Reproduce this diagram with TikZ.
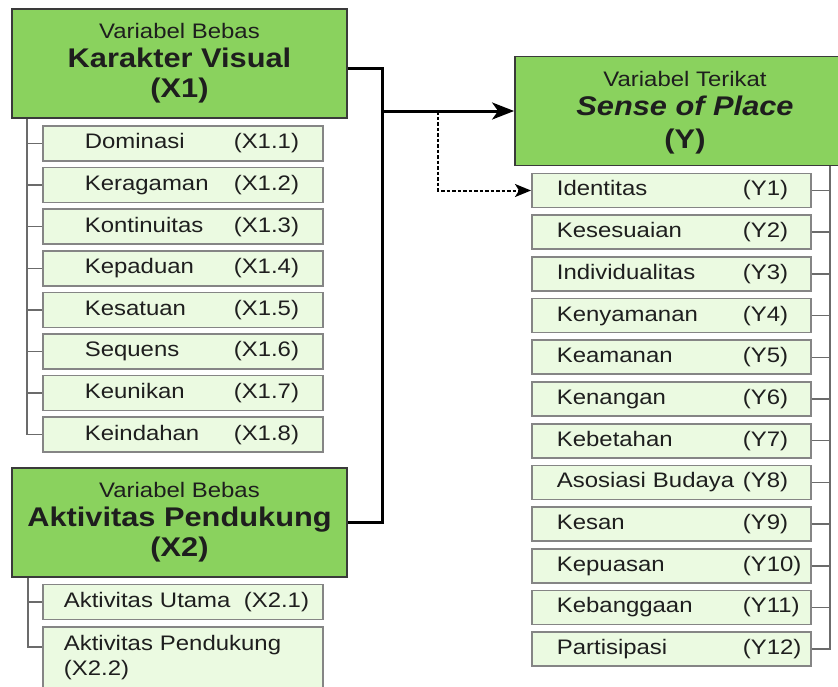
\documentclass[tikz,border=0pt]{standalone}
\usepackage{fontspec}
\setmainfont[FakeStretch=1.14]{Liberation Sans}
\usetikzlibrary{arrows.meta,calc}
\definecolor{maingreen}{HTML}{8AD25E}
\definecolor{itemfill}{HTML}{EBFAE1}
\definecolor{itemedge}{HTML}{858585}
\definecolor{mainedge}{HTML}{3A3A3A}
\definecolor{treegray}{HTML}{6B6B6B}
\definecolor{txt}{HTML}{1E1E1E}
\begin{document}
\begin{tikzpicture}[x=1pt,y=-1pt,
  mainbox/.style={draw=mainedge,fill=maingreen,line width=1.8pt,minimum width=335pt,minimum height=109pt,
    inner sep=0pt,align=center,text=txt,font=\fontsize{21}{29}\selectfont},
  itembox/.style={draw=itemedge,fill=itemfill,line width=1.7pt,minimum height=35pt,inner xsep=0pt,inner ysep=0pt,
    text width=280pt,align=left,anchor=west,text=txt,font=\fontsize{21}{25}\selectfont},
  yitem/.style={itembox,text width=279pt,minimum height=34pt},
  tree/.style={draw=treegray,line width=1.5pt},
  conn/.style={draw=black,line width=3pt},
  dotconn/.style={draw=black,line width=2pt,dash pattern=on 3.5pt off 2pt}
]
\useasboundingbox (0,0) rectangle (838,686);
\clip (0,0) rectangle (838,686);
\fill[white] (0,0) rectangle (838,686);

% main boxes
\node[mainbox] (X1) at (179.5,63.5) {Variabel Bebas\\{\fontsize{27}{29}\selectfont\bfseries Karakter Visual}\\[1pt]{\fontsize{27}{29}\selectfont\bfseries (X1)}};
\node[mainbox] (X2) at (179.5,522.5) {Variabel Bebas\\{\fontsize{27}{29}\selectfont\bfseries Aktivitas Pendukung}\\[1pt]{\fontsize{27}{29}\selectfont\bfseries (X2)}};
\node[mainbox,minimum width=340pt,text depth=3pt] (Y) at (685,111) {Variabel Terikat\\{\fontsize{27}{29}\selectfont\bfseries\itshape Sense of Place}\\[4pt]{\fontsize{27}{29}\selectfont\bfseries (Y)}};

% X1 items
\foreach \i/\n in {1/Dominasi,2/Keragaman,3/Kontinuitas,4/Kepaduan,5/Kesatuan,6/Sequens,7/Keunikan,8/Keindahan}{
  \node[itembox] (x1\i) at (42,{143.5+41.6*(\i-1)}) {\hspace*{42pt}\makebox[149pt][l]{\n}(X1.\i)};
}
% X2 items
\node[itembox] (x21) at (42,602) {\hspace*{21pt}\makebox[180pt][l]{Aktivitas Utama}(X2.1)};
\node[itembox,minimum height=62pt,anchor=north west] (x22) at (42,626) {\hspace*{21pt}Aktivitas Pendukung\\\hspace*{21pt}(X2.2)};

% Y items
\foreach \i/\n in {1/Identitas,2/Kesesuaian,3/Individualitas,4/Kenyamanan,5/Keamanan,6/Kenangan,7/Kebetahan,8/Asosiasi Budaya,9/Kesan,10/Kepuasan,11/Kebanggaan,12/Partisipasi}{
  \node[yitem] (y\i) at (531,{190.5+41.7*(\i-1)}) {\hspace*{25pt}\makebox[186pt][l]{\n}(Y\i)};
}

% tree trunks
\coordinate (tx1) at (27,0);
\coordinate (tx2) at (28,0);
\coordinate (ty) at (830,0);
\draw[tree] (X1.south -| tx1) |- (x18.west);
\foreach \i in {1,...,7}{\draw[tree] (x1\i.west -| tx1) -- (x1\i.west);}
\draw[tree] (X2.south -| tx2) |- ($(x22.north west)+(0,21)$);
\draw[tree] (x21.west -| tx2) -- (x21.west);
\draw[tree] (Y.south -| ty) |- (y12.east);
\foreach \i in {1,...,11}{\draw[tree] (y\i.east) -- (y\i.east -| ty);}

% connectors
\coordinate (j) at (382,111);
\coordinate (d) at (438,111);
\draw[conn] ($(X1.east)+(0,4.5)$) -| (j) |- (X2.east);
\draw[conn,-{Stealth[length=22pt,width=17pt,inset=6pt]}] (j) -- (Y.west);
\draw[dotconn,-{Stealth[length=16pt,width=13pt,inset=4pt]}] (d) |- (y1.west);
\end{tikzpicture}
\end{document}
